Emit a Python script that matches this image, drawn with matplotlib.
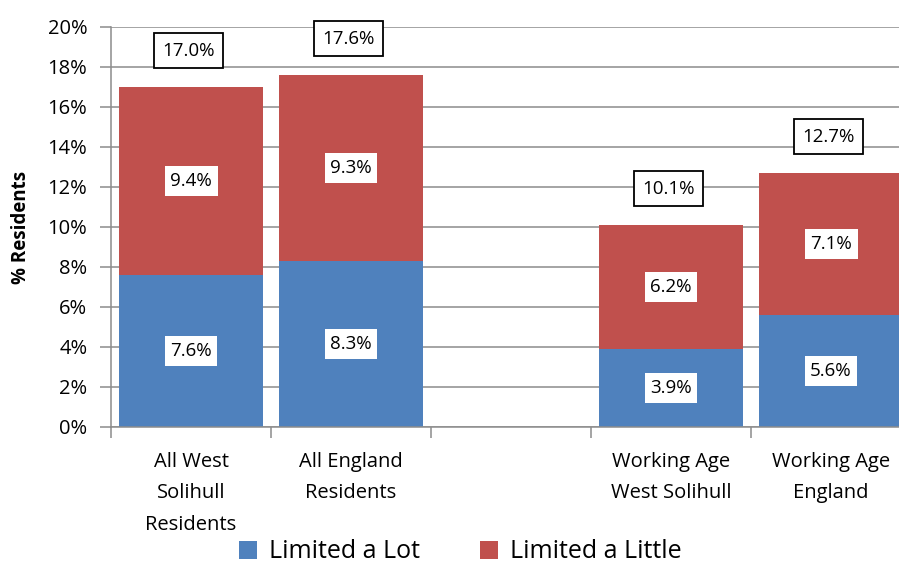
import numpy as np
import matplotlib.pyplot as plt
from matplotlib.ticker import FuncFormatter, FixedLocator

# residents whose day-to-day activities are limited (%)
categories = ["All West\nSolihull\nResidents", "All England\nResidents", "",
              "Working Age\nWest Solihull", "Working Age\nEngland"]
limited_lot = [7.6, 8.3, np.nan, 3.9, 5.6]
limited_little = [9.4, 9.3, np.nan, 6.2, 7.1]
totals = [17.0, 17.6, np.nan, 10.1, 12.7]

blue = "#4F81BD"
red = "#C0504D"
grey = "#8C8C8C"

plt.rcParams['font.family'] = ['Open Sans', 'DejaVu Sans']

fig = plt.figure(figsize=(8.99, 5.64), dpi=100)
ax = fig.add_axes([111 / 899, 137 / 564, 800 / 899, 400 / 564])

x = np.arange(len(categories))
lot = np.array(limited_lot)
little = np.array(limited_little)
ax.bar(x, lot, width=0.9, color=blue, label="Limited a Lot", zorder=2)
ax.bar(x, little, width=0.9, bottom=lot, color=red, label="Limited a Little", zorder=2)

inner_box = dict(boxstyle="square,pad=0.3", fc="white", ec="none")
total_box = dict(boxstyle="square,pad=0.45", fc="white", ec="black", lw=1.3)
for i in range(len(categories)):
    if np.isnan(lot[i]):
        continue
    ax.text(x[i], lot[i] / 2, f"{lot[i]:.1f}%", ha="center", va="center",
            fontsize=13.5, bbox=inner_box, zorder=3)
    ax.text(x[i], lot[i] + little[i] / 2, f"{little[i]:.1f}%", ha="center",
            va="center", fontsize=13.5, bbox=inner_box, zorder=3)
    ax.annotate(f"{totals[i]:.1f}%", (x[i], totals[i]), xytext=(-2, 26),
                textcoords="offset points", ha="center", va="center",
                fontsize=13.5, bbox=total_box, zorder=3, annotation_clip=False)

ax.set_xlim(-0.5, len(categories) - 0.5)
ax.set_ylim(0, 20)
ax.set_yticks(np.arange(0, 21, 2))
ax.yaxis.set_major_formatter(FuncFormatter(lambda v, p: f"{v:.0f}%"))
ax.yaxis.grid(True, color=grey, lw=1.1, zorder=0)

# category boundaries get tick marks, names sit at the centres
ax.xaxis.set_major_locator(FixedLocator(np.arange(-0.5, len(categories), 1.0)))
ax.xaxis.set_minor_locator(FixedLocator(x))
ax.set_xticklabels([], minor=False)
ax.set_xticklabels(categories, minor=True, fontsize=14.5, linespacing=1.75)
ax.tick_params(axis="x", which="major", length=8, color=grey, width=1.1, direction="out")
ax.tick_params(axis="x", which="minor", length=0, pad=18)
ax.tick_params(axis="y", length=8, color=grey, width=1.1, labelsize=14.5, pad=9)

for side in ["top", "right"]:
    ax.spines[side].set_visible(False)
for side in ["left", "bottom"]:
    ax.spines[side].set_color(grey)
    ax.spines[side].set_linewidth(1.1)

ax.set_ylabel("% Residents", fontsize=13.5, fontweight="bold", labelpad=12)

fig.legend(loc="center", bbox_to_anchor=(460 / 899, 1 - 552 / 564), ncol=2,
           frameon=False, fontsize=18, handlelength=0.75, handleheight=0.75,
           handletextpad=0.45, columnspacing=2.4)

fig.savefig("out.png", dpi=100)
